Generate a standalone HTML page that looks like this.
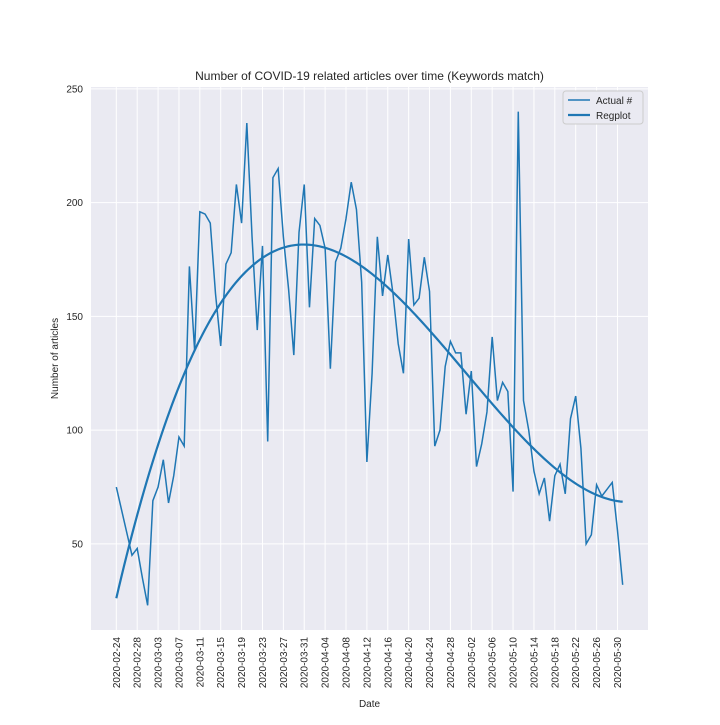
<!DOCTYPE html>
<html><head><meta charset="utf-8"><style>
body{margin:0;background:#fff;font-family:"Liberation Sans","DejaVu Sans",sans-serif}
</style></head><body>
<svg id="c" width="720" height="720" xmlns="http://www.w3.org/2000/svg"></svg>
<script>
const values=[75,65,55,45,48,35,23,69,75,87,68,80,97,93,172,135,196,195,191,160,137,173,178,208,191,235,185,144,181,95,211,215,185,162,133,187,208,154,193,190,180,127,174,180,193,209,197,165,86,125,185,159,177,160,138,125,184,155,158,176,161,93,100,128,139,134,134,107,126,84,94,108,141,113,121,117,73,240,113,100,82,72,79,60,80,85,72,105,115,92,50,54,76,71,74,77,56,32];
const startDate="2020-02-24";
const tickEvery=4;
const yTicks=[50,100,150,200,250];

const svg=document.getElementById('c');
const NS="http://www.w3.org/2000/svg";
const L=91,R=648,T=87,B=630;
const n=values.length;
const xmin=-(n-1)*0.05,xmax=(n-1)*1.05;
const vmin=Math.min(...values),vmax=Math.max(...values),vr=vmax-vmin;
const ymin=vmin-vr*0.05,ymax=vmax+vr*0.05;
const X=d=>L+(d-xmin)/(xmax-xmin)*(R-L);
const Y=v=>B-(v-ymin)/(ymax-ymin)*(B-T);
function el(t,a,p){const e=document.createElementNS(NS,t);for(const k in a)e.setAttribute(k,a[k]);(p||svg).appendChild(e);return e;}

const bg=el('rect',{x:L,y:T,width:R-L,height:B-T,fill:'#eaeaf2'});



const base=new Date(startDate+"T00:00:00Z");
for(let d=0;d<n;d+=tickEvery){
  const x=X(d);
  const g=el('line',{x1:x,x2:x,y1:T,y2:B,stroke:'#fff','stroke-width':1});
  
  
  const dt=new Date(base.getTime()+d*86400000);
  const s=dt.toISOString().slice(0,10);
  const t=el('text',{x:0,y:0,'font-size':10,fill:'#262626','text-anchor':'end',transform:`translate(${x+3.5},${B+7}) rotate(-90)`});
  t.textContent=s;
  
  
}
yTicks.forEach(v=>{
  const y=Y(v);
  const g=el('line',{x1:L,x2:R,y1:y,y2:y,stroke:'#fff','stroke-width':1});
  
  
  const t=el('text',{x:L-8,y:y+3.5,'font-size':10,fill:'#262626','text-anchor':'end'});
  t.textContent=v;
  
  
});

const line=el('polyline',{points:values.map((v,i)=>X(i)+','+Y(v)).join(' '),fill:'none',stroke:'#1f77b4','stroke-width':1.5});



// cubic least squares fit
function fit(deg){
  const m=deg+1,A=[],b=[];
  for(let i=0;i<m;i++){A.push(new Array(m).fill(0));b.push(0);}
  const s=(n-1)/2;
  values.forEach((v,i)=>{const x=(i-s)/s;for(let r=0;r<m;r++){b[r]+=v*x**r;for(let c=0;c<m;c++)A[r][c]+=x**(r+c);}});
  for(let i=0;i<m;i++){let p=i;for(let k=i+1;k<m;k++)if(Math.abs(A[k][i])>Math.abs(A[p][i]))p=k;[A[i],A[p]]=[A[p],A[i]];[b[i],b[p]]=[b[p],b[i]];
    for(let k=i+1;k<m;k++){const f=A[k][i]/A[i][i];for(let c=i;c<m;c++)A[k][c]-=f*A[i][c];b[k]-=f*b[i];}}
  const co=new Array(m).fill(0);
  for(let i=m-1;i>=0;i--){let sum=b[i];for(let c=i+1;c<m;c++)sum-=A[i][c]*co[c];co[i]=sum/A[i][i];}
  return d=>{const x=(d-s)/s;return co.reduce((a,c,k)=>a+c*x**k,0);};
}
const f=fit(3);
const pts=[];for(let k=0;k<=200;k++){const d=k*(n-1)/200;pts.push(X(d)+','+Y(f(d)));}
const reg=el('polyline',{points:pts.join(' '),fill:'none',stroke:'#1f77b4','stroke-width':2.2});



const title=el('text',{x:(L+R)/2,y:80,'font-size':12,fill:'#262626','text-anchor':'middle'});
title.textContent='Number of COVID-19 related articles over time (Keywords match)';


const xl=el('text',{x:(L+R)/2,y:707,'font-size':10,fill:'#262626','text-anchor':'middle'});
xl.textContent='Date';


const yl=el('text',{x:0,y:0,'font-size':10,fill:'#262626','text-anchor':'middle',transform:`translate(58,${(T+B)/2}) rotate(-90)`});
yl.textContent='Number of articles';



const lg=el('g',{});


el('rect',{x:563,y:91,width:80,height:33,rx:3,fill:'#eaeaf2',stroke:'#ccc','stroke-width':1},lg);
el('line',{x1:568,x2:590,y1:100,y2:100,stroke:'#1f77b4','stroke-width':1.5},lg);
const t1=el('text',{x:596,y:104,'font-size':10,fill:'#262626'},lg);t1.textContent='Actual #';


el('line',{x1:568,x2:590,y1:115,y2:115,stroke:'#1f77b4','stroke-width':2.2},lg);
const t2=el('text',{x:596,y:119,'font-size':10,fill:'#262626'},lg);t2.textContent='Regplot';


</script>
</body></html>
